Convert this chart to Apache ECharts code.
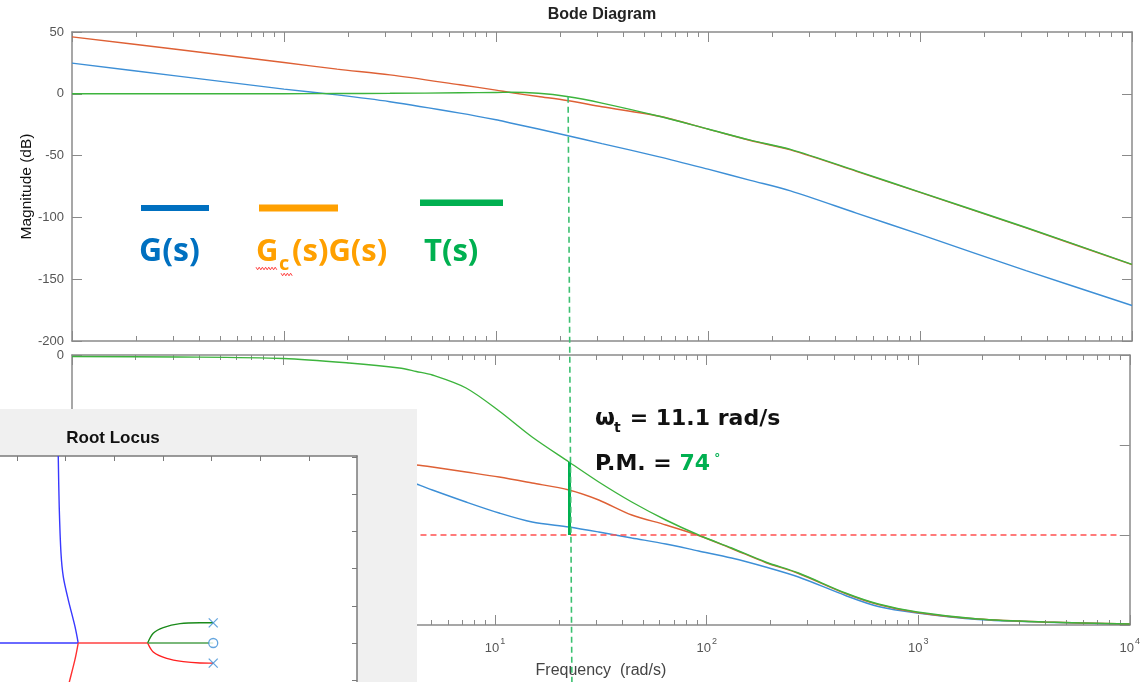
<!DOCTYPE html>
<html><head><meta charset="utf-8">
<script src="https://cdn.jsdelivr.net/npm/echarts@6/dist/echarts.min.js"></script>
<style>html,body{margin:0;padding:0;background:#fff}#c{width:1143px;height:682px}</style>
</head><body><div id="c"></div>
<script>
// ---------- data ----------
// Magnitude plot (frequency in rad/s, magnitude in dB)
const W_MAG  = [0.1, 0.316, 1, 1.78, 3.16, 6.76, 10, 11.7, 15.85, 21.6, 31.6, 58.9, 100, 158.5, 245, 501, 1000, 3162, 10000];
const MAG_G  = [24.8, 14.3, 3.8, -0.9, -6.4, -15.6, -21, -23.6, -28.5, -33.7, -40.3, -51, -61, -70, -78.5, -96.5, -113.8, -143, -171.3];
const MAG_GCG= [46.1, 35.8, 25.3, 20, 15.3, 7.3, 3.0, 1.0, -2.2, -5.4, -10.5, -18.2, -28.6, -37.8, -45.4, -62.7, -79.8, -108.5, -138.2];
const MAG_T  = [0, 0, 0.1, 0.2, 0.4, 0.8, 1.1, 1.2, 0.4, -2.2, -7.5, -18.2, -28.5, -37.5, -45, -62.4, -79.5, -108.2, -138];
// Phase plot (frequency in rad/s, phase in deg)
const W_PH   = [0.1, 0.316, 1, 2.04, 3.52, 4.24, 5.05, 7.29, 10.45, 14.96, 22.34, 30.9, 44.26, 64.12, 91.62, 131.2, 189.7, 271.6, 452.9, 647.1, 988.5, 1919, 3972, 10000];
const PH_G   = [-91, -94, -103, -113, -124, -129, -135, -147, -158, -167, -172, -177, -183, -189, -196, -203, -212, -222, -240.5, -251.5, -258, -264.5, -267.2, -269.2];
const PH_GCG = [-92, -96, -102, -106, -109, -110, -112, -117, -122, -128, -135, -145, -160, -170, -180.5, -193.5, -207.5, -218.5, -238.5, -249.5, -257.5, -264, -267, -269];
const PH_T   = [-1.5, -2, -3.5, -8, -13, -16.5, -20, -33, -56, -82, -107, -127, -147, -165, -180, -193, -207, -218, -238, -249, -257, -264, -267, -269];
// Annotations
const W_CROSS = 22.34;        // crossover marker frequency (rad/s)
const MAG_AT_CROSS = -2.4;    // dB where the dashed marker starts
const PHASE_LINE_END = -330;  // dashed marker runs below the phase axis
const PM_TOP = -107, PM_BOTTOM = -180;
const RED_LINE_PHASE = -180;
// Axis ticks
const MAG_RANGE = [-200, 50], MAG_STEP = 50;
const PH_RANGE = [-270, 0], PH_STEP = 90;
const FREQ_EXP_RANGE = [-1, 4];
// Root locus inset (real, imag)
const RL_X_RANGE = [-31.72, 4.93], RL_Y_RANGE = [-5.24, 25.13];
const RL_X_TICKS = [-30, -25, -20, -15, -10, -5, 0];
const RL_Y_TICKS = [-5, 0, 5, 10, 15, 20, 25];
const RL_BLUE_REAL = [[-40, 0], [-23.69, 0]];
const RL_BLUE_UP   = [[-23.69, 0], [-24.02, 2.2], [-24.71, 5.8], [-25.22, 8.9], [-25.46, 12.1], [-25.64, 18.3], [-25.74, 25.13]];
const RL_RED_REAL  = [[-23.69, 0], [-16.56, 0]];
const RL_RED_DOWN  = [[-23.69, 0], [-24.02, -2.2], [-24.71, -5.8], [-25.0, -7.5]];
const RL_RED_LOW   = [[-16.56, 0], [-15.99, -1.2], [-14.61, -2.06], [-12.9, -2.5], [-11.19, -2.68], [-9.83, -2.7]];
const RL_GREEN_UP  = [[-16.56, 0], [-15.99, 1.3], [-14.96, 2.06], [-13.24, 2.6], [-11.19, 2.72], [-9.83, 2.72]];
const RL_GREEN_REAL= [[-16.56, 0], [-9.83, 0]];
const RL_POLES = [[-9.83, 2.7], [-9.83, -2.7]];
const RL_ZEROS = [[-9.83, 0]];

// ---------- chart ----------
const L = Math.log10;
const pts = (ws, vs) => ws.map((w, i) => [L(w), vs[i]]);
const MINOR = [];
for (let d = FREQ_EXP_RANGE[0]; d < FREQ_EXP_RANGE[1]; d++) for (let k = 2; k <= 9; k++) MINOR.push(d + L(k));

const AX = '#8a8a8a', TXT = '#555';
const FONT = '"Liberation Sans", Arial, sans-serif';
const LEG = '"Open Sans", Lato, sans-serif';
const ANN = '"DejaVu Sans", sans-serif';
const C_BLUE = '#3d8fd6', C_ORANGE = '#de6035', C_GREEN = '#3db43d';

function xAxesFor(grid, labels) {
  const base = { gridIndex: grid, type: 'value', min: FREQ_EXP_RANGE[0], max: FREQ_EXP_RANGE[1], interval: 1, splitLine: { show: false } };
  const major = (pos, lab) => Object.assign({}, base, {
    position: pos,
    axisLine: { show: true, onZero: false, lineStyle: { color: AX, width: 1.5 } },
    axisTick: { show: true, inside: true, length: 10, lineStyle: { color: AX, width: 1 } },
    axisLabel: lab ? {
      show: true, margin: 12, fontFamily: FONT,
      formatter: v => '{b|10}{s|' + Math.round(v) + '}',
      rich: {
        b: { fontSize: 13, color: TXT, fontFamily: FONT, lineHeight: 18, verticalAlign: 'bottom' },
        s: { fontSize: 9, color: TXT, fontFamily: FONT, lineHeight: 9, verticalAlign: 'top', padding: [0, 0, 0, 1] }
      }
    } : { show: false },
    name: lab ? 'Frequency  (rad/s)' : '', nameLocation: 'middle', nameGap: 38, nameMoveOverlap: false,
    nameTextStyle: { fontSize: 16, color: '#444', fontFamily: FONT }
  });
  const minor = pos => Object.assign({}, base, {
    position: pos,
    axisLine: { show: false, onZero: false },
    axisTick: { show: true, inside: true, length: 5, customValues: MINOR, lineStyle: { color: AX, width: 1 } },
    axisLabel: { show: false }
  });
  return [major('bottom', labels), minor('bottom'), major('top', false), minor('top')];
}
function yAxesFor(grid, range, interval, name) {
  const mk = (pos, lab) => ({
    gridIndex: grid, type: 'value', min: range[0], max: range[1], interval, position: pos,
    splitLine: { show: false },
    axisLine: { show: true, onZero: false, lineStyle: { color: AX, width: 1.5 } },
    axisTick: { show: true, inside: true, length: 10, lineStyle: { color: AX } },
    axisLabel: { show: lab, margin: 8, fontSize: 13, color: TXT, fontFamily: FONT },
    name: lab ? name : '', nameLocation: 'middle', nameGap: 37, nameRotate: 90, nameMoveOverlap: false,
    nameTextStyle: { fontSize: 15.5, color: '#111', fontFamily: FONT }
  });
  return [mk('left', true), mk('right', false)];
}

const xAxis = [].concat(xAxesFor(0, false), xAxesFor(1, true));
xAxis.push({
  gridIndex: 2, type: 'value', min: RL_X_RANGE[0], max: RL_X_RANGE[1], position: 'top', z: 23,
  splitLine: { show: false },
  axisLine: { show: true, onZero: false, lineStyle: { color: '#7a7a7a', width: 1.5 } },
  axisTick: { show: true, inside: true, length: 5, customValues: RL_X_TICKS, lineStyle: { color: '#7a7a7a' } },
  axisLabel: { show: false }
});
const yAxis = [].concat(yAxesFor(0, MAG_RANGE, MAG_STEP, 'Magnitude (dB)'), yAxesFor(1, PH_RANGE, PH_STEP, 'Phase (deg)'));
yAxis.push({
  gridIndex: 2, type: 'value', min: RL_Y_RANGE[0], max: RL_Y_RANGE[1], position: 'right', z: 23,
  splitLine: { show: false },
  axisLine: { show: true, onZero: false, lineStyle: { color: '#7a7a7a', width: 1.5 } },
  axisTick: { show: true, inside: true, length: 5, customValues: RL_Y_TICKS, lineStyle: { color: '#7a7a7a' } },
  axisLabel: { show: false }
});

const line = (name, xi, yi, data, color, extra) => Object.assign({
  name, type: 'line', xAxisIndex: xi, yAxisIndex: yi, data, showSymbol: false, symbol: 'none',
  smooth: 0.3, lineStyle: { color, width: 1.4 }, itemStyle: { color }, animation: false, silent: true
}, extra || {});

const series = [
  line('G mag', 0, 0, pts(W_MAG, MAG_G), C_BLUE),
  line('GcG mag', 0, 0, pts(W_MAG, MAG_GCG), C_ORANGE),
  line('T mag', 0, 0, pts(W_MAG, MAG_T), C_GREEN),
  line('G phase', 4, 2, pts(W_PH, PH_G), C_BLUE),
  line('GcG phase', 4, 2, pts(W_PH, PH_GCG), C_ORANGE),
  line('T phase', 4, 2, pts(W_PH, PH_T), C_GREEN, {
    markLine: { silent: true, symbol: ['none', 'none'], label: { show: false }, animation: false,
      data: [
        [{ coord: [0.6, RED_LINE_PHASE], lineStyle: { color: '#ff5050', width: 1.6, type: [6, 4] } }, { coord: [3.94, RED_LINE_PHASE] }],
        [{ coord: [L(W_CROSS), PM_BOTTOM], lineStyle: { color: '#00b050', width: 3, type: 'solid' } }, { coord: [L(W_CROSS), PM_TOP] }]
      ] }
  })
];
// root locus inset
const rl = (name, data, color) => ({
  name, type: 'line', xAxisIndex: 8, yAxisIndex: 4, data, showSymbol: false, symbol: 'none',
  smooth: 0.3, z: 26, lineStyle: { color, width: 1.4 }, animation: false, silent: true
});
series.push({
  name: 'rl axes', type: 'line', xAxisIndex: 8, yAxisIndex: 4, data: [], z: 25, animation: false, silent: true,
  markLine: { silent: true, symbol: ['none', 'none'], label: { show: false }, animation: false,
    lineStyle: { color: '#999', width: 1, type: [2, 3] },
    data: [[{ coord: [0, RL_Y_RANGE[0]] }, { coord: [0, RL_Y_RANGE[1]] }], [{ coord: [-9.83, 0] }, { coord: [RL_X_RANGE[1], 0] }]] }
});
series.push(rl('b1', RL_BLUE_REAL, '#3838ff'), rl('b2', RL_BLUE_UP, '#3838ff'),
  rl('r1', RL_RED_REAL, '#ff4040'), rl('r2', RL_RED_DOWN, '#ff3030'), rl('r3', RL_RED_LOW, '#ff2020'),
  rl('g1', RL_GREEN_UP, '#1a8a1a'), rl('g2', RL_GREEN_REAL, '#4ea04e'));
series.push({
  name: 'poles', type: 'scatter', xAxisIndex: 8, yAxisIndex: 4, data: RL_POLES, z: 27, animation: false, silent: true,
  symbol: 'path://M0,0L10,10M10,0L0,10', symbolSize: 9,
  itemStyle: { color: 'none', borderColor: '#3d8fd6', borderWidth: 1.3 }
}, {
  name: 'zeros', type: 'scatter', xAxisIndex: 8, yAxisIndex: 4, data: RL_ZEROS, z: 27, animation: false, silent: true,
  symbol: 'circle', symbolSize: 9,
  itemStyle: { color: '#fff', borderColor: '#3d8fd6', borderWidth: 1.3 }
});

function squiggle(x0, x1, y) {
  const p = []; let up = true;
  for (let x = x0; x <= x1; x += 1.6) { p.push([x, y + (up ? -1.3 : 1.3)]); up = !up; }
  return p;
}
const txt = (id, x, y, text, font, fill, align) => ({ id, type: 'text', x, y, z: 30,
  style: { text, font, fill, align: align || 'left', verticalAlign: 'middle' } });
const graphic = [
  txt('title', 602, 15, 'Bode Diagram', '600 16px ' + FONT, '#222', 'center'),
  { id: 'lb1', type: 'rect', z: 30, shape: { x: 141, y: 205, width: 68, height: 6 }, style: { fill: '#0070c0' } },
  { id: 'lb2', type: 'rect', z: 30, shape: { x: 259, y: 204.5, width: 79, height: 7 }, style: { fill: '#ffa000' } },
  { id: 'lb3', type: 'rect', z: 30, shape: { x: 420, y: 199.5, width: 83, height: 6.5 }, style: { fill: '#00b050' } },
  txt('t1', 139, 252, 'G(s)', 'bold 32px ' + LEG, '#0070c0'),
  txt('t2a', 256, 252, 'G', 'bold 31px ' + LEG, '#ffa000'),
  txt('t2b', 279, 264, 'c', 'bold 20px ' + LEG, '#ffa000'),
  txt('t2c', 292, 252, '(s)G(s)', 'bold 31px ' + LEG, '#ffa000'),
  { id: 'sq1', type: 'polyline', z: 31, shape: { points: squiggle(256, 277, 268.5) }, style: { stroke: '#ff3030', lineWidth: 0.9, fill: null } },
  { id: 'sq2', type: 'polyline', z: 31, shape: { points: squiggle(281, 293, 274.5) }, style: { stroke: '#ff3030', lineWidth: 0.9, fill: null } },
  txt('t3', 424, 252, 'T(s)', 'bold 31px ' + LEG, '#00b050'),
  txt('w1', 595, 419, 'ω', 'bold 23px ' + ANN, '#111'),
  txt('w2', 614, 428, 't', 'bold 14px ' + ANN, '#111'),
  txt('w3', 622, 419, ' = 11.1 rad/s', 'bold 22px ' + ANN, '#111'),
  { id: 'pm', type: 'text', x: 595, y: 464, z: 30, style: { text: '{a|P.M. = }{g|74}{d| °}', align: 'left', verticalAlign: 'middle',
    rich: { a: { fontSize: 22, fontWeight: 'bold', fontFamily: ANN, fill: '#111' },
            g: { fontSize: 22, fontWeight: 'bold', fontFamily: ANN, fill: '#00b050' },
            d: { fontSize: 12, fontWeight: 'bold', fontFamily: ANN, fill: '#00b050', verticalAlign: 'top' } } } },
  // root locus panel
  { id: 'rlbg', type: 'rect', z: 20, shape: { x: 0, y: 409, width: 417, height: 273 }, style: { fill: '#f0f0f0' } },
  txt('rlt', 113, 438, 'Root Locus', 'bold 17px ' + FONT, '#111', 'center')
];
graphic[graphic.length - 1].z = 22;

const option = {
  animation: false,
  backgroundColor: '#fff',
  grid: [
    { left: 72, right: 11, top: 32, height: 309 },
    { left: 72, right: 11, top: 355, height: 270 },
    { left: 0, width: 357, top: 456, height: 226, show: true, backgroundColor: '#fff', borderWidth: 0, z: 21 }
  ],
  xAxis, yAxis, series, graphic
};
const chart = echarts.init(document.getElementById('c'));
chart.setOption(option);
// dashed crossover marker spanning both plots, positioned through the axes' scales
const pTop = chart.convertToPixel({ xAxisIndex: 0, yAxisIndex: 0 }, [L(W_CROSS) - 0.009, MAG_AT_CROSS]);
const pBot = chart.convertToPixel({ xAxisIndex: 4, yAxisIndex: 2 }, [L(W_CROSS) + 0.014, PHASE_LINE_END]);
chart.setOption({ graphic: [{ id: 'cross', type: 'line', z: 15,
  shape: { x1: pTop[0], y1: pTop[1], x2: pBot[0], y2: pBot[1] },
  style: { stroke: '#3cc070', lineWidth: 1.6, lineDash: [6, 4] } }] });
</script>
</body></html>
